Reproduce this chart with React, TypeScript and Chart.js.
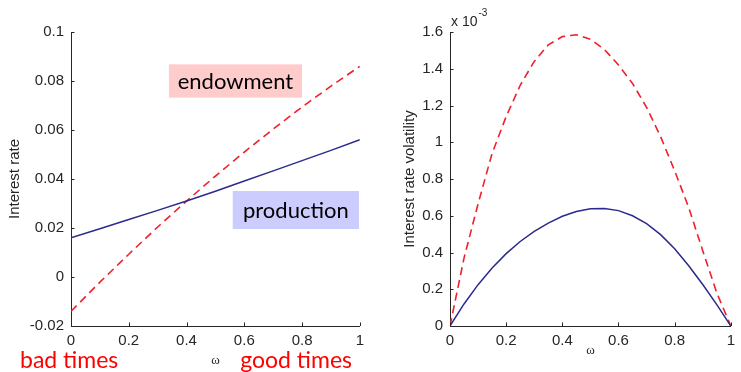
import React, { useEffect, useRef } from 'react';
import { Chart, registerables } from 'chart.js';

Chart.register(...registerables);

// ---------- data ----------
const omegaLeft = [0, 0.1, 0.2, 0.3, 0.4, 0.5, 0.6, 0.7, 0.8, 0.9, 1];
const productionRate = [0.016, 0.0197, 0.0235, 0.0272, 0.031, 0.035, 0.0392, 0.0433, 0.0475, 0.0517, 0.056];
const endowmentRate = [-0.014, -0.0021, 0.0093, 0.0204, 0.031, 0.0412, 0.051, 0.0604, 0.0694, 0.0779, 0.086];

const omegaRight = [0, 0.05, 0.1, 0.15, 0.2, 0.25, 0.3, 0.35, 0.4, 0.45, 0.5, 0.55, 0.6, 0.65, 0.7, 0.75, 0.8, 0.85, 0.9, 0.95, 1];
// volatility in units of 1e-3
const productionVol = [0, 0.12, 0.225, 0.316, 0.394, 0.46, 0.515, 0.56, 0.597, 0.623, 0.638, 0.64, 0.628, 0.6, 0.557, 0.497, 0.42, 0.328, 0.226, 0.116, 0];
const endowmentVol = [0, 0.37, 0.665, 0.94, 1.14, 1.31, 1.44, 1.53, 1.575, 1.585, 1.56, 1.505, 1.42, 1.32, 1.19, 1.03, 0.845, 0.645, 0.41, 0.18, 0];

const xTickValues = [0, 0.2, 0.4, 0.6, 0.8, 1];
const leftYTickValues = [-0.02, 0, 0.02, 0.04, 0.06, 0.08, 0.1];
const rightYTickValues = [0, 0.2, 0.4, 0.6, 0.8, 1, 1.2, 1.4, 1.6];

const leftTitle = 'Interest rate';
const rightTitle = 'Interest rate volatility';
const xTitle = 'ω';
const endowmentLabel = 'endowment';
const productionLabel = 'production';
const badTimesLabel = 'bad times';
const goodTimesLabel = 'good times';
const scaleLabel = 'x 10';
const scaleExponent = '-3';

// annotation boxes in data coordinates [x0, x1, y0, y1]
const endowmentBox = [0.339, 0.8, 0.0732, 0.0868];
const productionBox = [0.56, 0.997, 0.0196, 0.0351];

// ---------- styles ----------
const BLUE = '#2b2b8f';
const RED = '#f0202a';
const AXIS = '#262626';
const SANS = '"Liberation Sans", Arial, Helvetica, sans-serif';
const LABEL_FONT = 'Lato, "Noto Sans", sans-serif';

const fmt = (v: number | string) => String(+Number(v).toFixed(4));

const inwardTicks = {
  id: 'inwardTicks',
  afterDraw(chart: any) {
    const ctx = chart.ctx;
    const x = chart.scales.x;
    const y = chart.scales.y;
    const area = chart.chartArea;
    ctx.save();
    ctx.strokeStyle = AXIS;
    ctx.lineWidth = 1;
    ctx.beginPath();
    x.ticks.forEach((t: any) => {
      const px = Math.round(x.getPixelForValue(t.value)) + 0.5;
      ctx.moveTo(px, area.bottom);
      ctx.lineTo(px, area.bottom - 3.5);
    });
    y.ticks.forEach((t: any) => {
      const py = Math.round(y.getPixelForValue(t.value)) + 0.5;
      ctx.moveTo(area.left, py);
      ctx.lineTo(area.left + 3.5, py);
    });
    ctx.stroke();
    ctx.restore();
  },
};

function drawBox(chart: any, box: number[], fill: string, text: string) {
  const ctx = chart.ctx;
  const x = chart.scales.x;
  const y = chart.scales.y;
  const x0 = x.getPixelForValue(box[0]);
  const x1 = x.getPixelForValue(box[1]);
  const y0 = y.getPixelForValue(box[3]);
  const y1 = y.getPixelForValue(box[2]);
  ctx.save();
  ctx.fillStyle = fill;
  ctx.fillRect(x0, y0, x1 - x0, y1 - y0);
  ctx.fillStyle = '#000';
  ctx.font = '22px ' + LABEL_FONT;
  ctx.textAlign = 'center';
  ctx.textBaseline = 'middle';
  ctx.fillText(text, (x0 + x1) / 2, (y0 + y1) / 2 + 1);
  ctx.restore();
}

const leftAnnotations = {
  id: 'leftAnnotations',
  beforeDatasetsDraw(chart: any) {
    drawBox(chart, endowmentBox, '#ffcccc', endowmentLabel);
    drawBox(chart, productionBox, '#ccccff', productionLabel);
  },
  afterDraw(chart: any) {
    const ctx = chart.ctx;
    ctx.save();
    ctx.fillStyle = '#ff0000';
    ctx.font = '23px ' + LABEL_FONT;
    ctx.textBaseline = 'alphabetic';
    ctx.textAlign = 'left';
    ctx.fillText(badTimesLabel, 20, 368);
    ctx.textAlign = 'right';
    ctx.fillText(goodTimesLabel, 352, 368);
    ctx.restore();
  },
};

const rightAnnotations = {
  id: 'rightAnnotations',
  afterDraw(chart: any) {
    const ctx = chart.ctx;
    const area = chart.chartArea;
    ctx.save();
    ctx.fillStyle = AXIS;
    ctx.textBaseline = 'alphabetic';
    ctx.textAlign = 'left';
    ctx.font = '14px ' + SANS;
    const x0 = area.left + 1;
    ctx.fillText(scaleLabel, x0, 26);
    const w = ctx.measureText(scaleLabel).width;
    ctx.font = '10px ' + SANS;
    ctx.fillText(scaleExponent, x0 + w + 1, 16);
    ctx.restore();
  },
};

function makeConfig(opts: {
  omega: number[];
  blue: number[];
  red: number[];
  yTicks: number[];
  yTitle: string;
  yAxisWidth: number;
  yTitlePad: number;
  xTitlePad: number;
  padRight: number;
  plugins: any[];
}) {
  const tickFont = { family: SANS, size: 15 };
  return {
    type: 'line' as const,
    data: {
      datasets: [
        {
          label: 'production',
          data: opts.omega.map((w, i) => ({ x: w, y: opts.blue[i] })),
          borderColor: BLUE,
          borderWidth: 1.5,
          pointRadius: 0,
          tension: 0,
          fill: false,
        },
        {
          label: 'endowment',
          data: opts.omega.map((w, i) => ({ x: w, y: opts.red[i] })),
          borderColor: RED,
          borderWidth: 1.6,
          borderDash: [8, 5],
          pointRadius: 0,
          tension: 0,
          fill: false,
        },
      ],
    },
    options: {
      animation: false as const,
      responsive: false,
      maintainAspectRatio: false,
      events: [],
      layout: { padding: { left: 0, right: opts.padRight, top: 32, bottom: 0 } },
      plugins: { legend: { display: false }, tooltip: { enabled: false } },
      scales: {
        x: {
          type: 'linear' as const,
          min: 0,
          max: 1,
          afterBuildTicks: (s: any) => {
            s.ticks = xTickValues.map((v) => ({ value: v }));
          },
          afterFit: (s: any) => {
            s.height = 46;
          },
          grid: { display: false, drawTicks: false },
          border: { display: true, color: AXIS, width: 1 },
          ticks: {
            color: AXIS,
            font: tickFont,
            padding: 6,
            maxRotation: 0,
            autoSkip: false,
            callback: (v: any) => fmt(v),
          },
          title: {
            display: true,
            text: xTitle,
            color: AXIS,
            font: { family: '"Liberation Serif", "DejaVu Serif", serif', size: 13 },
            padding: { top: 0, bottom: opts.xTitlePad },
          },
        },
        y: {
          type: 'linear' as const,
          min: opts.yTicks[0],
          max: opts.yTicks[opts.yTicks.length - 1],
          afterBuildTicks: (s: any) => {
            s.ticks = opts.yTicks.map((v) => ({ value: v }));
          },
          afterFit: (s: any) => {
            s.width = opts.yAxisWidth;
          },
          grid: { display: false, drawTicks: false },
          border: { display: true, color: AXIS, width: 1 },
          ticks: {
            color: AXIS,
            font: tickFont,
            padding: 7,
            autoSkip: false,
            callback: (v: any) => fmt(v),
          },
          title: {
            display: true,
            text: opts.yTitle,
            color: AXIS,
            font: { family: SANS, size: 15 },
            padding: { top: opts.yTitlePad, bottom: 0 },
          },
        },
      },
    },
    plugins: [inwardTicks, ...opts.plugins],
  };
}

function ChartCanvas(props: { config: any; left: number; width: number }) {
  const ref = useRef<HTMLCanvasElement | null>(null);
  useEffect(() => {
    if (!ref.current) return;
    const chart = new Chart(ref.current, props.config);
    return () => chart.destroy();
  }, []);
  return (
    <canvas
      ref={ref}
      width={props.width}
      height={372}
      style={{ position: 'absolute', left: props.left, top: 0, width: props.width, height: 372 }}
    />
  );
}

export default function App() {
  const leftConfig = makeConfig({
    omega: omegaLeft,
    blue: productionRate,
    red: endowmentRate,
    yTicks: leftYTickValues,
    yTitle: leftTitle,
    yAxisWidth: 71,
    yTitlePad: 6,
    xTitlePad: 4,
    padRight: 10,
    plugins: [leftAnnotations],
  });
  const rightConfig = makeConfig({
    omega: omegaRight,
    blue: productionVol,
    red: endowmentVol,
    yTicks: rightYTickValues,
    yTitle: rightTitle,
    yAxisWidth: 70,
    yTitlePad: 21,
    xTitlePad: 14,
    padRight: 2,
    plugins: [rightAnnotations],
  });
  return (
    <div style={{ position: 'absolute', left: 0, top: 0, width: 741, height: 372, background: '#fff', overflow: 'hidden' }}>
      <ChartCanvas config={leftConfig} left={0} width={370} />
      <ChartCanvas config={rightConfig} left={380} width={361} />
    </div>
  );
}
